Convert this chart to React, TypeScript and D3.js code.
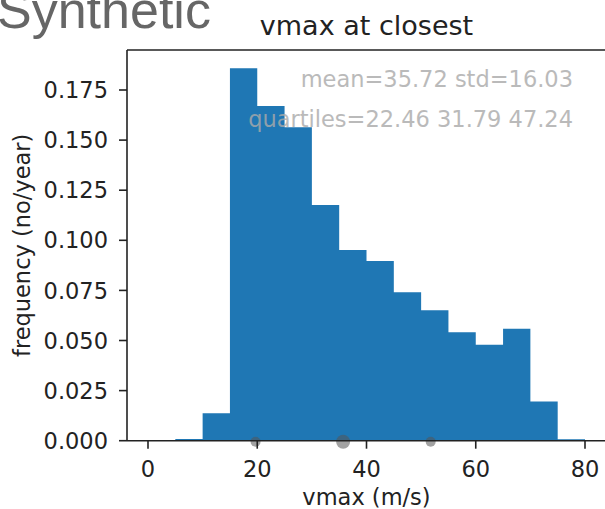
import React from "react";
import * as d3 from "d3";

const binEdges = [0, 5, 10, 15, 20, 25, 30, 35, 40, 45, 50, 55, 60, 65, 70, 75, 80];
const frequency = [0, 0.0008, 0.0137, 0.1858, 0.167, 0.1564, 0.1176, 0.0952, 0.0897, 0.0741, 0.0651, 0.0541, 0.0479, 0.0559, 0.0195, 0.0007];
const xTicks = [0, 20, 40, 60, 80];
const yTicks = [0, 0.025, 0.05, 0.075, 0.1, 0.125, 0.15, 0.175];
const markerValues = [19.69, 35.72, 51.75];
const markerSizes = [5, 7, 5];
const statLines = ["mean=35.72 std=16.03", "quartiles=22.46 31.79 47.24"];

const W = 605;
const H = 509;
const left = 127;
const top = 50;
const bottom = 440.7;

export default function App() {
  const x = d3.scaleLinear().domain([0, 80]).range([148, 585]);
  const y = d3.scaleLinear().domain([0, 0.175]).range([bottom, 90]);
  const rightEdge = x(84.5);
  const font = "'DejaVu Sans', sans-serif";
  const pts: [number, number][] = binEdges.map((e, i) => [e, frequency[Math.min(i, frequency.length - 1)]]);
  const area = d3
    .area<[number, number]>()
    .x((d) => x(d[0]))
    .y0(y(0))
    .y1((d) => y(d[1]))
    .curve(d3.curveStepAfter);
  return (
    <svg width={W} height={H} style={{ position: "absolute", left: 0, top: 0, background: "#fff" }}>
      <text x={-3} y={28} fontFamily="'Liberation Sans', Arial, sans-serif" fontSize={52} fill="#666">Synthetic</text>
      <text x={x(40)} y={35} textAnchor="middle" fontFamily={font} fontSize={27} fill="#222">vmax at closest</text>
      <path d={area(pts) || ""} fill="#1f77b4" />
      {markerValues.map((v, i) => (
        <circle key={i} cx={x(v)} cy={y(0) + 1} r={markerSizes[i]} fill="#555" opacity={0.55} />
      ))}
      {statLines.map((s, i) => (
        <text key={i} x={573} y={87 + i * 40} textAnchor="end" fontFamily={font} fontSize={22.5} fill="#aaa" opacity={0.8}>{s}</text>
      ))}
      <line x1={left} x2={left} y1={top} y2={bottom} stroke="#222" strokeWidth={1.6} />
      <line x1={left} x2={rightEdge} y1={top} y2={top} stroke="#222" strokeWidth={1.6} />
      <line x1={left} x2={rightEdge} y1={bottom} y2={bottom} stroke="#222" strokeWidth={1.6} />
      {yTicks.map((t) => (
        <g key={t}>
          <line x1={left - 8} x2={left} y1={y(t)} y2={y(t)} stroke="#222" strokeWidth={1.6} />
          <text x={left - 19} y={y(t)} dy="0.36em" textAnchor="end" fontFamily={font} fontSize={22.5} fill="#222">{t.toFixed(3)}</text>
        </g>
      ))}
      {xTicks.map((t) => (
        <g key={t}>
          <line x1={x(t)} x2={x(t)} y1={bottom} y2={bottom + 8} stroke="#222" strokeWidth={1.6} />
          <text x={x(t)} y={477} textAnchor="middle" fontFamily={font} fontSize={22.5} fill="#222">{t}</text>
        </g>
      ))}
      <text x={x(40)} y={505} textAnchor="middle" fontFamily={font} fontSize={22.5} fill="#222">vmax (m/s)</text>
      <text transform={`translate(30,${(top + bottom) / 2}) rotate(-90)`} textAnchor="middle" fontFamily={font} fontSize={22.5} fill="#222">frequency (no/year)</text>
    </svg>
  );
}
